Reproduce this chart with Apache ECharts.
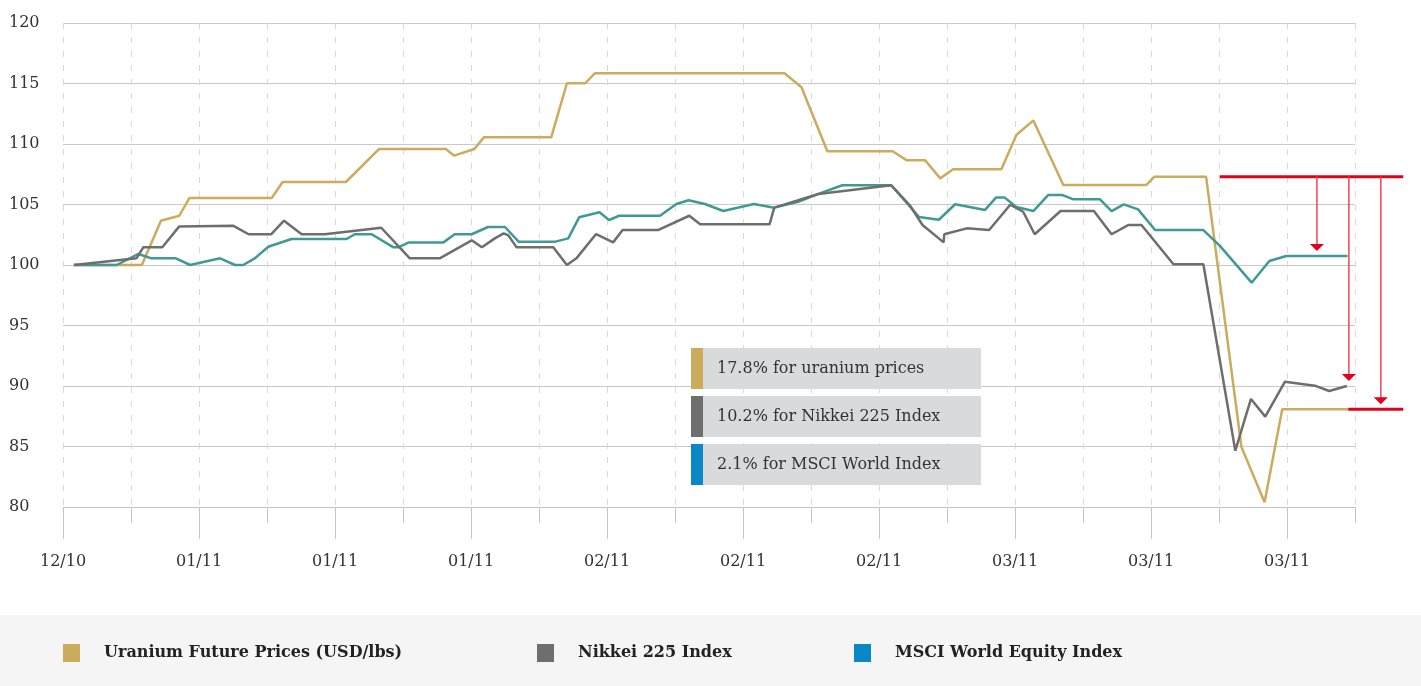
<!DOCTYPE html>
<html>
<head>
<meta charset="utf-8">
<script src="https://cdn.jsdelivr.net/npm/echarts@6/dist/echarts.min.js"></script>
<style>
  html, body { margin: 0; padding: 0; background: #fff; }
  #chart { width: 1421px; height: 686px; }
</style>
</head>
<body>
<div id="chart"></div>
<script>
// x is position along the time axis in tick steps (0 = 12/10 tick), y is indexed value
const uranium = [
  [0.16, 100], [1.16, 100], [1.44, 103.66], [1.71, 104.07], [1.86, 105.54], [3.07, 105.54],
  [3.23, 106.86], [4.16, 106.86], [4.65, 109.59], [5.63, 109.59], [5.75, 109.04], [6.05, 109.59],
  [6.19, 110.55], [7.18, 110.55], [7.41, 115.02], [7.68, 115.02], [7.82, 115.84], [10.61, 115.84],
  [10.86, 114.69], [11.24, 109.4], [12.2, 109.4], [12.41, 108.65], [12.68, 108.65], [12.9, 107.16],
  [13.09, 107.91], [13.8, 107.91], [14.02, 110.74], [14.27, 111.95], [14.71, 106.61], [15.93, 106.61],
  [16.05, 107.3], [16.81, 107.3], [17.33, 84.96], [17.67, 80.39], [17.93, 88.07], [18.9, 88.07]
];
const nikkei = [
  [0.16, 100], [1.08, 100.55], [1.18, 101.46], [1.46, 101.46], [1.71, 103.19], [2.5, 103.25],
  [2.73, 102.54], [3.06, 102.54], [3.25, 103.66], [3.51, 102.54], [3.85, 102.54], [4.68, 103.08],
  [5.1, 100.55], [5.54, 100.55], [6.01, 102.04], [6.16, 101.46], [6.35, 102.2], [6.48, 102.62],
  [6.55, 102.45], [6.67, 101.46], [7.21, 101.46], [7.41, 100], [7.55, 100.55], [7.84, 102.56],
  [8.09, 101.87], [8.23, 102.89], [8.75, 102.89], [9.21, 104.07], [9.37, 103.36], [10.39, 103.36],
  [10.46, 104.74], [11.11, 105.87], [12.18, 106.59], [12.46, 104.88], [12.64, 103.31], [12.95, 101.87],
  [12.96, 102.54], [13.29, 103.03], [13.62, 102.89], [13.93, 104.98], [14.12, 104.4], [14.29, 102.54],
  [14.67, 104.46], [15.16, 104.46], [15.42, 102.54], [15.67, 103.31], [15.86, 103.31], [16.33, 100.06],
  [16.77, 100.06], [17.24, 84.65], [17.47, 88.93], [17.68, 87.47], [17.97, 90.36], [18.41, 90.03],
  [18.62, 89.59], [18.88, 90.0]
];
const msci = [
  [0.16, 100], [0.79, 100], [1.11, 100.91], [1.3, 100.55], [1.66, 100.55], [1.87, 100],
  [2.31, 100.55], [2.53, 100], [2.65, 100], [2.82, 100.55], [3.02, 101.51], [3.36, 102.15],
  [4.17, 102.15], [4.29, 102.54], [4.54, 102.54], [4.86, 101.46], [4.93, 101.46], [5.08, 101.85],
  [5.59, 101.85], [5.76, 102.54], [6.01, 102.54], [6.25, 103.14], [6.5, 103.14], [6.7, 101.93],
  [7.24, 101.93], [7.43, 102.2], [7.59, 103.94], [7.89, 104.36], [8.03, 103.72], [8.18, 104.07],
  [8.78, 104.07], [9.02, 105.04], [9.2, 105.35], [9.44, 105.04], [9.71, 104.46], [10.16, 105.04],
  [10.46, 104.74], [10.81, 105.23], [11.13, 105.92], [11.46, 106.59], [12.18, 106.59], [12.59, 103.97],
  [12.88, 103.74], [13.12, 105.02], [13.56, 104.55], [13.72, 105.57], [13.85, 105.57], [14.02, 104.79],
  [14.27, 104.46], [14.49, 105.79], [14.69, 105.79], [14.86, 105.43], [15.25, 105.43], [15.42, 104.46],
  [15.6, 105.01], [15.81, 104.6], [16.06, 102.89], [16.77, 102.89], [17.01, 101.6], [17.48, 98.54],
  [17.74, 100.33], [17.99, 100.74], [18.89, 100.74]
];
const xTickLabels = ['12/10', '01/11', '01/11', '01/11', '02/11', '02/11', '02/11', '03/11', '03/11', '03/11'];
const seriesNames = ['Uranium Future Prices (USD/lbs)', 'Nikkei 225 Index', 'MSCI World Equity Index'];
const notes = ['17.8% for uranium prices', '10.2% for Nikkei 225 Index', '2.1% for MSCI World Index'];

// red drop arrows: from the pre-crash uranium level down to each series' end value
const dropFrom = 107.3;
const dropTo = [100.74, 90.0, 88.07];
const dropX = [18.44, 18.91, 19.38];
const dropLineX = [17.01, 19.71];

const GOLD = '#cbac5c', GRAY = '#6e6e6e', TEAL = '#3f9a95', BLUE = '#0a88c6', RED = '#e2001a';
const FONT = 'DejaVu Serif';

const chart = echarts.init(document.getElementById('chart'));

const majorTicks = xTickLabels.map((l, i) => i * 2);

function legendFor(name, left) {
  return {
    data: [name], left: left, top: 644, padding: 0, icon: 'rect', itemWidth: 17, itemHeight: 18,
    selectedMode: false, z: 10,
    textStyle: { fontFamily: FONT, fontWeight: 'bold', fontSize: 16, color: '#222', padding: [0, 0, 0, 19] }
  };
}

const option = {
  backgroundColor: '#fff',
  animation: false,
  grid: { left: 63, right: 66, top: 23, bottom: 179, outerBoundsMode: 'none' },
  legend: [legendFor(seriesNames[0], 63), legendFor(seriesNames[1], 537), legendFor(seriesNames[2], 854)],
  xAxis: [
    {
      type: 'value', position: 'bottom', min: 0, max: 19, interval: 1,
      axisLine: { lineStyle: { color: '#c4c4c4', width: 1 } },
      axisTick: { length: 16, lineStyle: { color: '#c4c4c4' } },
      axisLabel: { show: false },
      splitLine: { show: true, lineStyle: { color: '#d9d9d9', type: [6, 8], width: 1 } }
    },
    {
      type: 'value', position: 'bottom', min: 0, max: 19,
      axisLine: { show: false },
      axisTick: { show: true, length: 32, customValues: majorTicks, lineStyle: { color: '#c4c4c4' } },
      axisLabel: {
        customValues: majorTicks, margin: 47,
        fontFamily: FONT, fontSize: 16, color: '#333',
        formatter: v => xTickLabels[Math.round(v / 2)] || ''
      },
      splitLine: { show: false }
    }
  ],
  yAxis: {
    type: 'value', min: 80, max: 120, interval: 5,
    axisLine: { show: false }, axisTick: { show: false },
    axisLabel: { align: 'left', margin: 54, fontFamily: FONT, fontSize: 16, color: '#333', padding: [0, 0, 10, 0] },
    splitLine: { lineStyle: { color: '#c9c9c9', width: 1 } }
  },
  series: [
    { name: seriesNames[0], type: 'line', data: uranium, showSymbol: false, itemStyle: { color: GOLD }, lineStyle: { color: GOLD, width: 2.5 } },
    { name: seriesNames[2], type: 'line', data: msci, showSymbol: false, itemStyle: { color: BLUE }, lineStyle: { color: TEAL, width: 2.5 } },
    { name: seriesNames[1], type: 'line', data: nikkei, showSymbol: false, itemStyle: { color: GRAY }, lineStyle: { color: GRAY, width: 2.5 } }
  ]
};
chart.setOption(option);

// build overlay graphics from the chart's own scales
const px = v => chart.convertToPixel({ xAxisIndex: 0 }, v);
const py = v => chart.convertToPixel({ yAxisIndex: 0 }, v);
const graphics = [];

// legend band
graphics.push({ type: 'rect', left: 0, top: 615, z: 0, shape: { width: 1421, height: 71 }, style: { fill: '#f5f5f5' } });

// note boxes
const noteColors = [GOLD, GRAY, BLUE];
notes.forEach((t, i) => {
  const top = 348 + i * 48;
  graphics.push({ type: 'rect', z: 20, shape: { x: 691, y: top, width: 290, height: 41 }, style: { fill: '#d9dadb' } });
  graphics.push({ type: 'rect', z: 21, shape: { x: 691, y: top, width: 12, height: 41 }, style: { fill: noteColors[i] } });
  graphics.push({ type: 'text', z: 22, x: 717, y: top + 21, style: { text: t, font: '16px "' + FONT + '"', fill: '#333', verticalAlign: 'middle' } });
});

// red drop arrows
const yTop = py(dropFrom);
graphics.push({ type: 'line', z: 30, shape: { x1: px(dropLineX[0]), y1: yTop, x2: px(dropLineX[1]), y2: yTop }, style: { stroke: RED, lineWidth: 3 } });
const yBottom = py(dropTo[2]);
graphics.push({ type: 'line', z: 30, shape: { x1: px(uranium[uranium.length - 1][0]), y1: yBottom, x2: px(dropLineX[1]), y2: yBottom }, style: { stroke: RED, lineWidth: 3 } });
dropTo.forEach((v, i) => {
  const x = px(dropX[i]);
  const tip = py(v) - 5;
  graphics.push({ type: 'line', z: 30, shape: { x1: x, y1: yTop, x2: x, y2: tip - 5 }, style: { stroke: '#e8475a', lineWidth: 1.5 } });
  graphics.push({ type: 'polygon', z: 31, shape: { points: [[x - 7, tip - 7], [x + 7, tip - 7], [x, tip]] }, style: { fill: RED } });
});

chart.setOption({ graphic: graphics });
</script>
</body>
</html>
